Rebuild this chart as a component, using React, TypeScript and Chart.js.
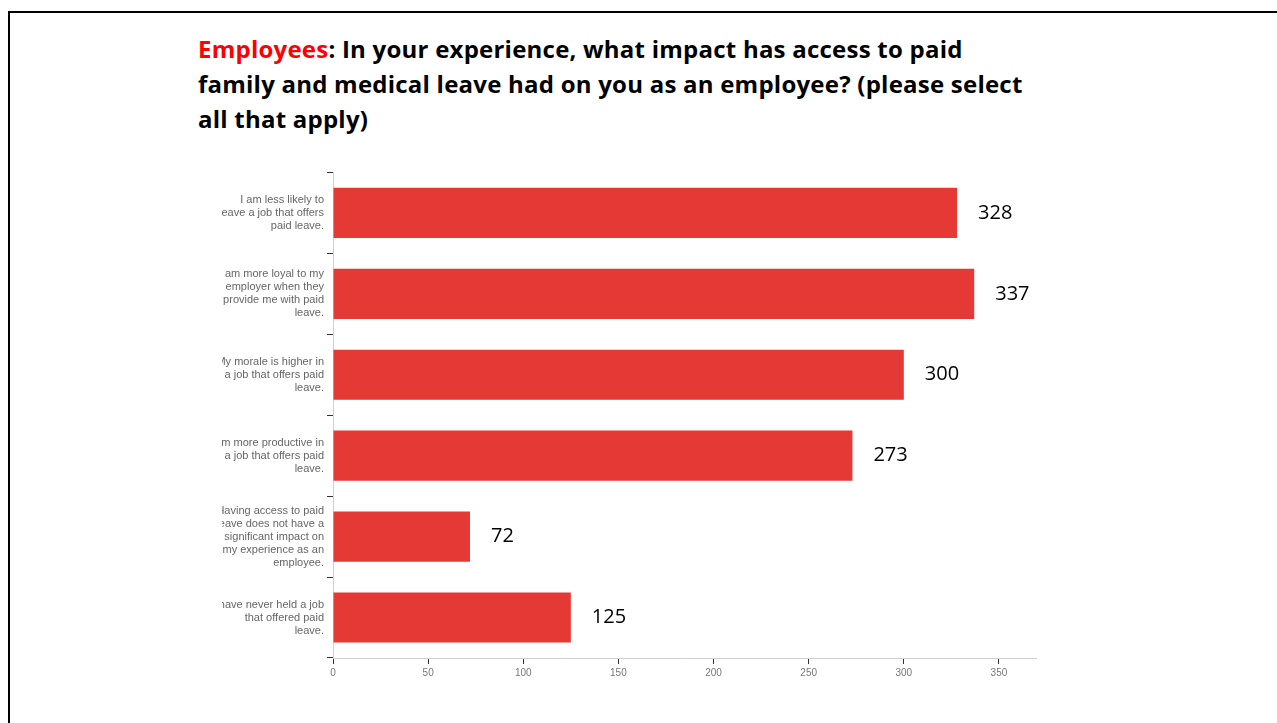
import React, { useEffect, useRef } from "react";
import { Chart, registerables } from "chart.js";

Chart.register(...registerables);

const categories: string[][] = [
  ["I am less likely to", "leave a job that offers", "paid leave."],
  ["I am more loyal to my", "employer when they", "provide me with paid", "leave."],
  ["My morale is higher in", "a job that offers paid", "leave."],
  ["I am more productive in", "a job that offers paid", "leave."],
  ["Having access to paid", "leave does not have a", "significant impact on", "my experience as an", "employee."],
  ["I have never held a job", "that offered paid", "leave."],
];
const values: number[] = [328, 337, 300, 273, 72, 125];
const xMin = 0;
const xMax = 370;
const xStep = 50;

const valueLabelPlugin = {
  id: "valueLabels",
  afterDatasetsDraw(chart: any) {
    const ctx = chart.ctx;
    const meta = chart.getDatasetMeta(0);
    ctx.save();
    ctx.font = "20px 'Open Sans', sans-serif";
    ctx.fillStyle = "#000";
    ctx.textAlign = "left";
    ctx.textBaseline = "middle";
    meta.data.forEach((bar: any, i: number) => {
      ctx.fillText(String(values[i]), bar.x + 21, bar.y);
    });
    ctx.restore();
  },
};

export default function App() {
  const ref = useRef<HTMLCanvasElement | null>(null);
  useEffect(() => {
    if (!ref.current) return;
    const chart = new Chart(ref.current, {
      type: "bar",
      data: {
        labels: categories,
        datasets: [
          {
            data: values,
            backgroundColor: "#e53935",
            borderWidth: 0,
            barPercentage: 0.62,
            categoryPercentage: 1,
          },
        ],
      },
      options: {
        indexAxis: "y",
        animation: false,
        responsive: false,
        maintainAspectRatio: false,
        layout: { padding: { top: 5, right: 0, bottom: 0, left: 0 } },
        plugins: { legend: { display: false }, tooltip: { enabled: false } },
        scales: {
          x: {
            min: xMin,
            max: xMax,
            ticks: {
              stepSize: xStep,
              includeBounds: false,
              color: "#777",
              font: { family: "'Liberation Sans', sans-serif", size: 10 },
              padding: 3,
            },
            grid: { drawOnChartArea: false, tickLength: 6, tickColor: "#333", tickWidth: 1 },
            border: { color: "#d0d0d0", width: 1 },
            afterFit: (scale: any) => {
              scale.height = 30;
            },
          },
          y: {
            ticks: {
              color: "#666",
              font: { family: "'Liberation Sans', sans-serif", size: 11, lineHeight: 1.18 },
              padding: 3,
              autoSkip: false,
            },
            grid: { drawOnChartArea: false, tickLength: 6, tickColor: "#333", tickWidth: 1 },
            border: { color: "#d0d0d0", width: 1 },
            afterFit: (scale: any) => {
              scale.width = 111;
            },
          },
        },
      },
      plugins: [valueLabelPlugin],
    });
    return () => chart.destroy();
  }, []);

  return (
    <div
      style={{
        position: "fixed",
        left: 0,
        top: 0,
        width: 1277,
        height: 723,
        overflow: "hidden",
        background: "#fff",
      }}
    >
      <div
        style={{
          position: "absolute",
          left: 8,
          top: 11,
          width: 1400,
          height: 1000,
          border: "2px solid #000",
          boxSizing: "border-box",
        }}
      />
      <div
        style={{
          position: "absolute",
          left: 198,
          top: 31,
          fontFamily: "'Open Sans', sans-serif",
          fontWeight: 700,
          fontSize: 24,
          letterSpacing: "0.23px",
          lineHeight: "35px",
          color: "#000",
          whiteSpace: "nowrap",
        }}
      >
        <span style={{ color: "#ff0000" }}>Employees</span>: In your experience, what impact has access to paid
        <br />
        family and medical leave had on you as an employee? (please select
        <br />
        all that apply)
      </div>
      <canvas
        ref={ref}
        width={815}
        height={538}
        style={{ position: "absolute", left: 222, top: 150, width: 815, height: 538 }}
      />
    </div>
  );
}
